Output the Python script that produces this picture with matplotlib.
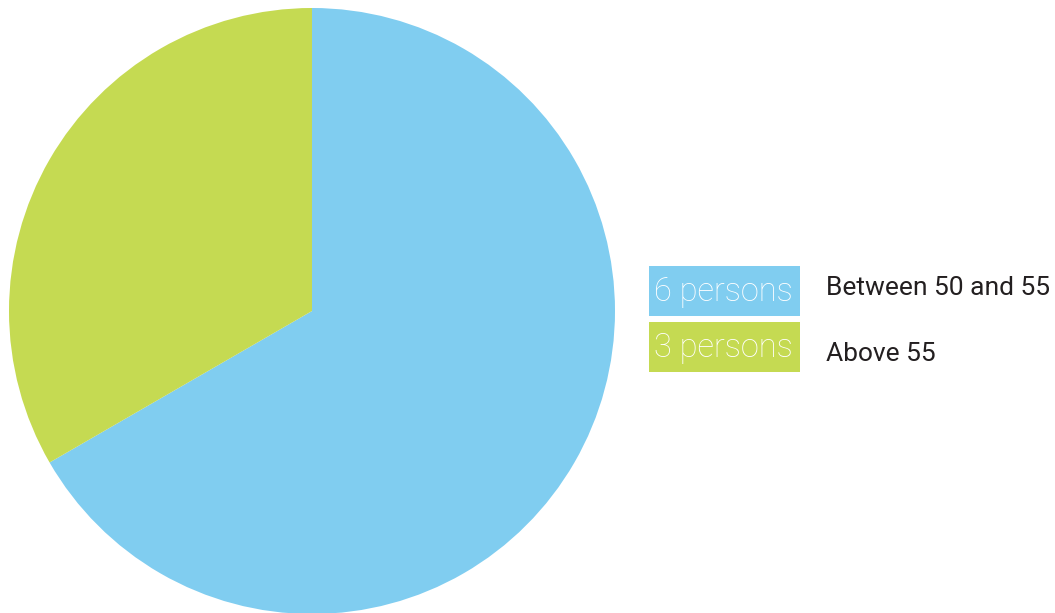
import matplotlib.pyplot as plt
import matplotlib.patches as patches

# data
counts = [6, 3]
box_labels = ["6 persons", "3 persons"]
categories = ["Between 50 and 55", "Above 55"]
colors = ["#80cdf0", "#c5da52"]

W, H = 1055, 613
fig = plt.figure(figsize=(W / 100, H / 100), dpi=100)

# pie axes (pixel placement)
cx, cy, r = 312, 302, 303
ax = fig.add_axes([(cx - r) / W, (cy - r) / H, 2 * r / W, 2 * r / H])
ax.pie(counts, colors=colors, startangle=90, counterclock=False, radius=1,
       wedgeprops=dict(linewidth=0))
ax.set_xlim(-1, 1)
ax.set_ylim(-1, 1)
ax.set_aspect("equal")
ax.axis("off")

# legend boxes
box_x, box_w, box_h = 649, 151, 50
box_tops = [266, 322]
for i in range(len(counts)):
    top = box_tops[i]
    fig.patches.append(patches.Rectangle((box_x / W, (H - top - box_h) / H), box_w / W, box_h / H,
                                         transform=fig.transFigure, facecolor=colors[i],
                                         edgecolor="none"))
    fig.text((box_x + 5) / W, (H - top - box_h / 2 - 1) / H, box_labels[i],
             color="white", fontsize=23.5, family=["Roboto", "DejaVu Sans"], weight="light",
             va="center", ha="left")
    fig.text(826 / W, (H - top - 22 - i * 10) / H, categories[i],
             color="#231f20", fontsize=19, family=["Roboto", "DejaVu Sans"],
             va="center", ha="left")

fig.savefig("out.png", dpi=100)
